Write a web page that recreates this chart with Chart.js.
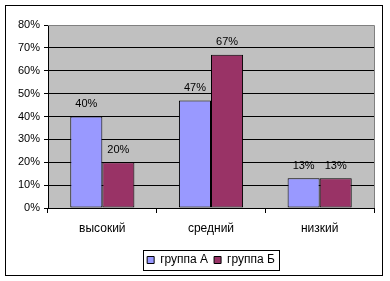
<!DOCTYPE html>
<html lang="ru">
<head>
    <meta charset="UTF-8">
    <title>группы</title>
    <script src="https://cdn.jsdelivr.net/npm/chart.js"></script>
    <style>
        body { margin: 0; background: #fff; }
        #wrap { width: 390px; height: 281px; }
    </style>
</head>
<body>
    <div id="wrap"><canvas id="barChart" width="390" height="281"></canvas></div>
    <script>
        const categories = ['высокий', 'средний', 'низкий'];
        const groupA = [40, 47, 13];
        const groupB = [20, 67, 13];
        const seriesNames = ['группа А', 'группа Б'];
        const yTicks = [0, 10, 20, 30, 40, 50, 60, 70, 80];

        const font = 'Arial, "Liberation Sans", sans-serif';

        // gray plot area, outer frame, legend frame, value labels
        const excelLook = {
            id: 'excelLook',
            beforeDraw(chart) {
                const c = chart.ctx, a = chart.chartArea;
                c.save();
                c.fillStyle = '#fff';
                c.fillRect(0, 0, chart.width, chart.height);
                c.fillStyle = '#c0c0c0';
                c.fillRect(a.left, a.top, a.right - a.left, a.bottom - a.top);
                c.restore();
            },
            afterDatasetsDraw(chart) {
                const c = chart.ctx, a = chart.chartArea;
                c.save();
                c.strokeStyle = '#808080';
                c.lineWidth = 1;
                c.beginPath();
                c.moveTo(a.left, a.top + 0.5);
                c.lineTo(a.right + 0.5, a.top + 0.5);
                c.lineTo(a.right + 0.5, a.bottom);
                c.stroke();

                c.fillStyle = '#000';
                c.font = '11px ' + font;
                c.textAlign = 'center';
                c.textBaseline = 'bottom';
                chart.data.datasets.forEach((ds, i) => {
                    chart.getDatasetMeta(i).data.forEach((bar, j) => {
                        c.fillText(ds.data[j] + '%', bar.x, bar.y - 7);
                    });
                });
                c.restore();
            },
            afterDraw(chart) {
                const c = chart.ctx;
                c.save();
                c.strokeStyle = '#000';
                c.lineWidth = 1;
                c.strokeRect(5.5, 5.5, 377, 270);
                const hb = chart.legend.legendHitBoxes;
                if (hb && hb.length) {
                    const l = hb[0].left - 4;
                    const last = hb[hb.length - 1];
                    const r = last.left + last.width + 4;
                    const cy = hb[0].top + hb[0].height / 2;
                    c.strokeRect(Math.round(l) + 0.5, Math.round(cy - 10) + 0.5, Math.round(r - l), 20);
                }
                c.restore();
            }
        };

        new Chart(document.getElementById('barChart'), {
            type: 'bar',
            data: {
                labels: categories,
                datasets: [{
                    label: seriesNames[0],
                    data: groupA,
                    backgroundColor: '#9999ff',
                    borderColor: '#000',
                    borderWidth: 1,
                    borderSkipped: false
                }, {
                    label: seriesNames[1],
                    data: groupB,
                    backgroundColor: '#993366',
                    borderColor: '#000',
                    borderWidth: 1,
                    borderSkipped: false
                }]
            },
            options: {
                responsive: false,
                animation: false,
                layout: { padding: { top: 25, right: 16, left: 0, bottom: 5 } },
                datasets: {
                    bar: { categoryPercentage: 0.59, barPercentage: 1 }
                },
                scales: {
                    x: {
                        grid: { drawOnChartArea: false, color: '#000', tickLength: 5, offset: true },
                        border: { color: '#000' },
                        ticks: { color: '#000', font: { family: font, size: 12 }, padding: 8 },
                        afterFit(scale) { scale.height = 40; }
                    },
                    y: {
                        min: 0,
                        max: 80,
                        afterBuildTicks(scale) { scale.ticks = yTicks.map(v => ({ value: v })); },
                        grid: { color: '#000', tickLength: 4 },
                        border: { color: '#000' },
                        ticks: {
                            color: '#000',
                            font: { family: font, size: 11 },
                            padding: 4,
                            callback: v => v + '%'
                        },
                        afterFit(scale) { scale.width = 48; }
                    }
                },
                plugins: {
                    legend: {
                        position: 'bottom',
                        fullSize: false,
                        labels: {
                            color: '#000',
                            font: { family: font, size: 12 },
                            boxWidth: 7,
                            boxHeight: 7,
                            padding: 6,
                            useBorderRadius: false
                        }
                    },
                    tooltip: { enabled: false }
                }
            },
            plugins: [excelLook]
        });
    </script>
</body>
</html>
